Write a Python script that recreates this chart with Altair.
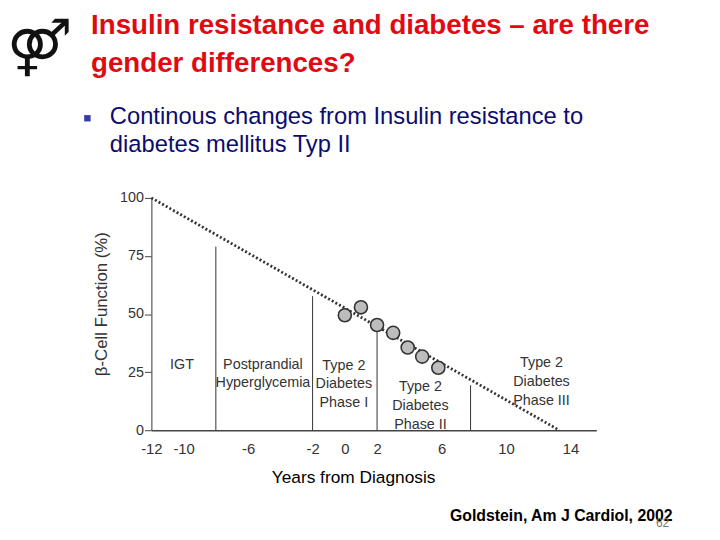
import altair as alt
import pandas as pd

# ---------------- data ----------------
x_ticks = [-12, -10, -6, -2, 0, 2, 6, 10, 14]
y_ticks = [0, 25, 50, 75, 100]

decline_years = [-12, 13.3]
decline_beta = [100, 0]

point_years = [0, 1, 2, 3, 3.9, 4.8, 5.8]
point_beta = [49.5, 52.9, 45.3, 41.9, 35.6, 31.7, 26.9]

boundary_years = [-8, -2, 2, 7.8]
boundary_top = [79, 57.7, 43, 19.4]
boundary_bottom = [0, 0, 0, 0]

phase_labels = [
    "IGT",
    "Postprandial\nHyperglycemia",
    "Type 2\nDiabetes\nPhase I",
    "Type 2\nDiabetes\nPhase II",
    "Type 2\nDiabetes\nPhase III",
]
phase_x = [-10.1, -5.08, -0.06, 4.69, 12.2]
phase_y = [26.5, 26.5, 26.1, 16.9, 27.1]

title_text = "Insulin resistance and diabetes – are there\ngender differences?"
bullet_text = "Continous changes from Insulin resistance to\ndiabetes mellitus Typ II"
source_text = "Goldstein, Am J Cardiol, 2002"
page_number = "62"
logo_glyph = "⚤"

# ---------------- tables ----------------
line_df = pd.DataFrame({"year": decline_years, "beta": decline_beta})
pts_df = pd.DataFrame({"year": point_years, "beta": point_beta})
bnd_df = pd.DataFrame({"year": boundary_years, "beta": boundary_top, "bottom": boundary_bottom})
lab_df = pd.DataFrame({"year": phase_x, "beta": phase_y, "label": phase_labels})
one = pd.DataFrame({"k": [0]})

FONT = "Liberation Sans"

x_scale = alt.Scale(domain=[-12, 15.6], nice=False, zero=False)
y_scale = alt.Scale(domain=[0, 100], nice=False, zero=False)

x_axis = alt.Axis(
    values=x_ticks, ticks=False, labelPadding=12, labelFontSize=15, labelColor="#333",
    labelFont=FONT, labelFlush=False, labelOverlap=False, labelExpr="'' + datum.value",
    domainColor="#444", domainWidth=1.5, grid=False,
    titleFontSize=17.5, titleFont=FONT,
    titleFontWeight="normal", titleColor="#000", titleX=204, titleY=48,
    titleBaseline="middle", titleAlign="center",
)
y_axis = alt.Axis(
    values=y_ticks, tickSize=7, tickColor="#444", labelPadding=1, labelFontSize=14.5,
    labelColor="#333", labelFont=FONT, labelFlush=False, grid=False,
    domainColor="#555", domainWidth=1.2,
    titleFontSize=17, titleFont=FONT,
    titleFontWeight="normal", titleColor="#333", titleX=-50, titleY=107,
    titleAngle=-90, titleAlign="center", titleBaseline="middle",
)

X = alt.X("year:Q", scale=x_scale, axis=x_axis, title="Years from Diagnosis")
Y = alt.Y("beta:Q", scale=y_scale, axis=y_axis, title="β-Cell Function (%)")

decline = alt.Chart(line_df).mark_line(
    strokeDash=[2, 2.2], strokeWidth=2.8, color="#333"
).encode(x=X, y=Y)

bounds = alt.Chart(bnd_df).mark_rule(color="#333", strokeWidth=1).encode(
    x=X, y=Y, y2="bottom:Q",
)

points = alt.Chart(pts_df).mark_circle(
    size=175, fill="#bdbdbd", stroke="#333", strokeWidth=1.6, opacity=1
).encode(x=X, y=Y)

labels = alt.Chart(lab_df).mark_text(
    align="center", baseline="alphabetic", fontSize=14.5, lineHeight=19,
    lineBreak="\n", font=FONT, color="#333",
).encode(x=X, y=Y, text="label:N")

title = alt.Chart(one).mark_text(
    text=title_text, lineBreak="\n", lineHeight=39, align="left",
    baseline="alphabetic", fontSize=28, fontWeight="bold", color="#e00a12", font=FONT,
).encode(x=alt.value(-61), y=alt.value(-166))

bullet = alt.Chart(one).mark_square(size=42, color="#3a3aae", opacity=1).encode(
    x=alt.value(-64.7), y=alt.value(-80.5)
)

subtitle = alt.Chart(one).mark_text(
    text=bullet_text, lineBreak="\n", lineHeight=28.7, align="left",
    baseline="alphabetic", fontSize=24, color="#0c0c6e", font=FONT,
).encode(x=alt.value(-42), y=alt.value(-75))

logo = alt.Chart(one).mark_text(
    text=logo_glyph, align="center", baseline="middle", fontSize=56,
    color="#111", font="DejaVu Sans",
).encode(x=alt.value(-113), y=alt.value(-150))

source = alt.Chart(one).mark_text(
    text=source_text, align="left", baseline="alphabetic", fontSize=16,
    fontWeight="bold", color="#000", font=FONT,
).encode(x=alt.value(302), y=alt.value(327))

pnum = alt.Chart(one).mark_text(
    text=page_number, align="center", baseline="middle", fontSize=12,
    color="#777", font=FONT,
).encode(x=alt.value(517), y=alt.value(329))

chart = alt.layer(
    decline, bounds, points, labels, title, bullet, subtitle, logo, source, pnum
).properties(
    width=450, height=235,
    autosize=alt.AutoSizeParams(type="none"),
    padding={"left": 145, "top": 189, "right": 117, "bottom": 108},
    background="white",
).configure_view(stroke=None)

chart.save("out.html", embed_options={"renderer": "svg", "actions": False})
